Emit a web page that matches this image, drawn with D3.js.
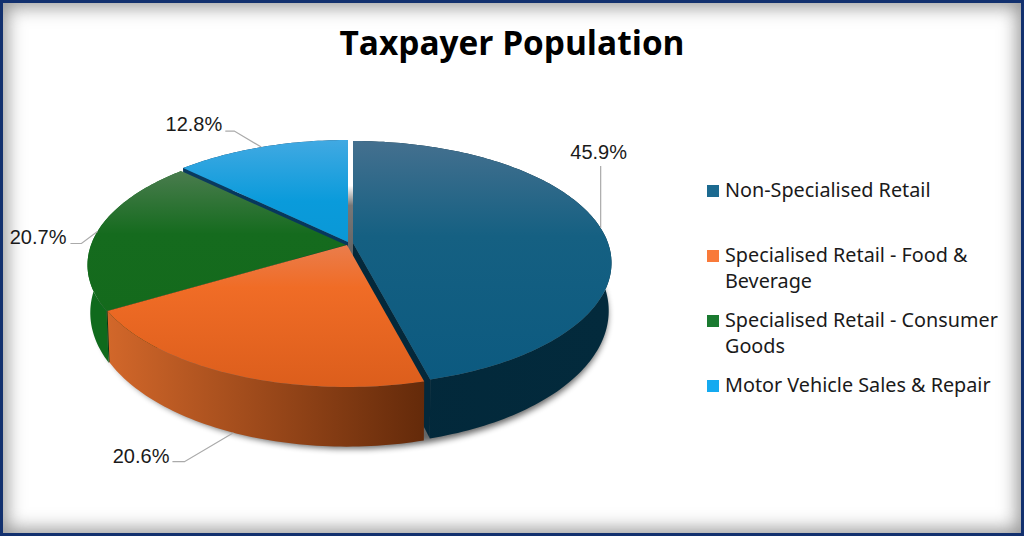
<!DOCTYPE html>
<html>
<head>
<meta charset="utf-8">
<script src="https://cdn.jsdelivr.net/npm/d3@7"></script>
<style>
html, body { margin: 0; padding: 0; background: #fff; }
#chart {
    width: 1024px; height: 536px; box-sizing: border-box;
    border: 3px solid #12306e;
    box-shadow: inset 0 0 18px 4px rgba(80, 80, 80, 0.6);
    position: relative;
}
svg { position: absolute; left: -3px; top: -3px; }
</style>
</head>
<body>
<div id="chart"></div>
<script>
var title = "Taxpayer Population";
var categories = ["Non-Specialised Retail", "Specialised Retail - Food & Beverage", "Specialised Retail - Consumer Goods", "Motor Vehicle Sales & Repair"];
var shares = [45.9, 20.6, 20.7, 12.8];
var legendColors = ["#1c6a90", "#f97a3a", "#1a7a30", "#15aaf0"];

// gradients per slice: top face runs light to base, side wall runs left to right
var topStops = [
    [[0, "#44708f"], [0.4, "#156082"], [1, "#0c5a80"]],
    [[0, "#ea7d4c"], [0.3, "#f06c26"], [1, "#dc5e1c"]],
    [[0, "#4a7c4e"], [0.45, "#156b1e"], [1, "#146a1c"]],
    [[0, "#41a9e2"], [0.6, "#0a9bdb"], [1, "#0a98d6"]]
];
var wallStops = [
    [[0, "#02283a"], [1, "#032a3c"]],
    [[0, "#d2672a"], [1, "#642a0a"]],
    [[0, "#0f6a1c"], [1, "#0f6a1c"]],
    [[0, "#0a3a5e"], [1, "#0a3a5e"]]
];
var innerWall = ["#04283a", "#000", "#063a14", "#07375c"];

// small explode offset per slice, same order as categories
var offsets = [[5, 0], [-1, 2], [-2, 2], [0, -1]];

// perspective of the disc
var x0 = 348, y0 = 243;
var topDisc = { a: 255, b: 118.7, k: 0.164, y: y0 };
var lowDisc = { a: 252, b: 130, k: 0.17, y: 288 };

function project(disc, angle, off) {
    var u = Math.sin(angle), v = Math.cos(angle);
    var den = 1 + disc.k * v;
    return [x0 + off[0] + disc.a * u / den, disc.y + off[1] - disc.b * v / den];
}
function apex(disc, off) {
    return [x0 + off[0], disc.y + off[1]];
}
function rim(disc, a0, a1, off) {
    var n = Math.ceil(Math.abs(a1 - a0) / 0.02);
    return d3.range(n + 1).map(function (i) {
        return project(disc, a0 + (a1 - a0) * i / n, off);
    });
}

var line = d3.line();
var svg = d3.select("#chart").append("svg").attr("width", 1024).attr("height", 536);
var defs = svg.append("defs");

function gradient(id, stops, horizontal) {
    var g = defs.append("linearGradient").attr("id", id)
        .attr("x1", 0).attr("y1", 0)
        .attr("x2", horizontal ? 1 : 0).attr("y2", horizontal ? 0 : 1);
    stops.forEach(function (s) {
        g.append("stop").attr("offset", s[0]).attr("stop-color", s[1]);
    });
}
categories.forEach(function (c, i) {
    gradient("top" + i, topStops[i], false);
    gradient("wall" + i, wallStops[i], true);
});
gradient("gap", [[0, "#fff"], [0.42, "#fff"], [0.6, "#777"], [1, "#666"]], false);
defs.append("filter").attr("id", "blur")
    .attr("x", "-10%").attr("y", "-10%").attr("width", "120%").attr("height", "120%")
    .append("feGaussianBlur").attr("stdDeviation", 3);

var arcs = d3.pie().sort(null)(shares);

// title
svg.append("text").attr("x", 512).attr("y", 55)
    .attr("text-anchor", "middle")
    .style("font-family", "'Open Sans'").style("font-weight", 700).style("font-size", "33.4px")
    .attr("fill", "#000").text(title);

// soft shadow under the disc
svg.append("path")
    .attr("d", line(rim(lowDisc, 0, 2 * Math.PI, [4, 4])) + "Z")
    .attr("fill", "#000").attr("opacity", 0.6).attr("filter", "url(#blur)");

// gap between the first and last slice
var last = arcs.length - 1;
svg.append("path")
    .attr("d", line([project(topDisc, 0, offsets[last]), project(topDisc, 0, offsets[0]), apex(topDisc, offsets[0]), apex(topDisc, [0, 6])]) + "Z")
    .attr("fill", "url(#gap)");

// back to front: blue, sky, green, orange
[0, 3, 2, 1].forEach(function (i) {
    var d = arcs[i], off = offsets[i];
    var g = svg.append("g").attr("class", "slice");

    // cut face that looks at the viewer
    var cut = d.endAngle < Math.PI ? d.endAngle : (d.startAngle > Math.PI ? d.startAngle : null);
    if (cut !== null) {
        g.append("path")
            .attr("d", line([apex(topDisc, off), project(topDisc, cut, off), project(lowDisc, cut, off), apex(lowDisc, off)]) + "Z")
            .attr("fill", innerWall[i]);
    }

    // outer wall
    var upper = rim(topDisc, d.startAngle, d.endAngle, off);
    var lower = rim(lowDisc, d.endAngle, d.startAngle, off);
    g.append("path").attr("d", line(upper.concat(lower)) + "Z").attr("fill", "url(#wall" + i + ")");

    // top face
    g.append("path")
        .attr("d", line([apex(topDisc, off)].concat(upper)) + "Z")
        .attr("fill", "url(#top" + i + ")");
});

// data labels with leader lines, anchored on the rim at each slice's middle
var labelPlace = [
    { disc: topDisc, elbow: [0, -62], end: [0, -62], tx: -2, ty: -76, anchor: "middle" },
    { disc: lowDisc, elbow: [-49, 29], end: [-61, 29], tx: -64, ty: 23, anchor: "end" },
    { disc: topDisc, elbow: [-16, 12], end: [-27, 12], tx: -31, ty: 6, anchor: "end" },
    { disc: topDisc, elbow: [-27, -16], end: [-36, -16], tx: -39, ty: -23, anchor: "end" }
];
arcs.forEach(function (d, i) {
    var p = labelPlace[i];
    var mid = (d.startAngle + d.endAngle) / 2;
    var at = project(p.disc, mid, offsets[i]);
    svg.append("path")
        .attr("d", line([at, [at[0] + p.elbow[0], at[1] + p.elbow[1]], [at[0] + p.end[0], at[1] + p.end[1]]]))
        .attr("fill", "none").attr("stroke", "#aaa").attr("stroke-width", 1.2);
    svg.append("text")
        .attr("x", at[0] + p.tx).attr("y", at[1] + p.ty)
        .attr("text-anchor", p.anchor).attr("dominant-baseline", "central")
        .style("font-family", "'Liberation Sans'").style("font-size", "20px")
        .attr("fill", "#1a1a1a").text(d3.format(".1f")(shares[i]) + "%");
});

// legend
var legendY = d3.scalePoint().domain(categories).range([191, 386]);
var legend = svg.selectAll("g.legend").data(categories).enter().append("g").attr("class", "legend")
    .attr("transform", function (c) { return "translate(707," + legendY(c) + ")"; });
legend.append("rect").attr("x", 0).attr("y", -6).attr("width", 12).attr("height", 12)
    .attr("fill", function (c, i) { return legendColors[i]; });
legend.append("text")
    .style("font-family", "'Noto Sans'").style("font-size", "19.8px").attr("fill", "#1a1a1a")
    .each(function (c) {
        var el = d3.select(this), words = c.split(" "), cur = [], row = 0;
        var span = el.append("tspan").attr("x", 18).attr("y", 6);
        words.forEach(function (w) {
            cur.push(w);
            span.text(cur.join(" "));
            if (span.node().getComputedTextLength() > 285) {
                cur.pop();
                span.text(cur.join(" "));
                cur = [w];
                row++;
                span = el.append("tspan").attr("x", 18).attr("y", 6 + row * 26).text(w);
            }
        });
    });
</script>
</body>
</html>
